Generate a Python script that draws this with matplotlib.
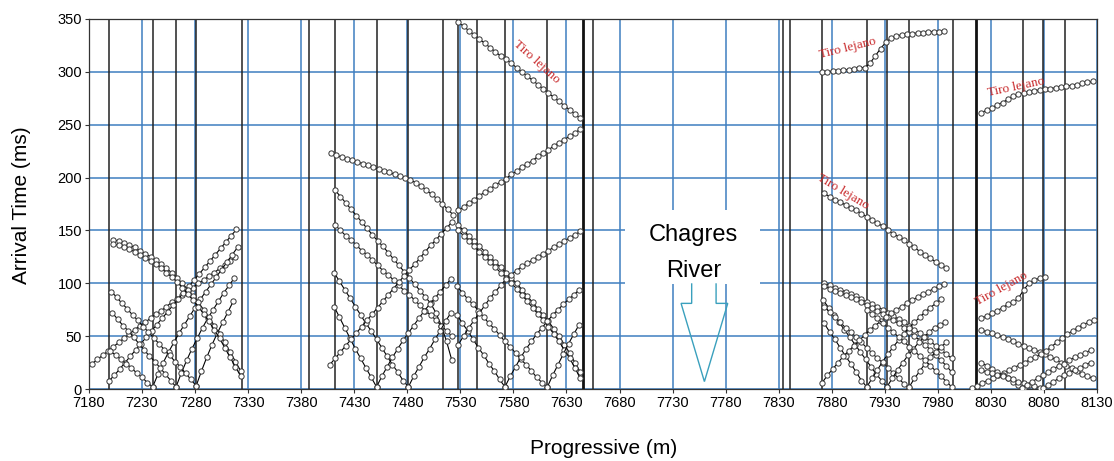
import numpy as np
import matplotlib
matplotlib.use("Agg")
import matplotlib.pyplot as plt
from matplotlib.patches import Rectangle, Polygon

# ---------------- data ----------------
STEP = 5  # geophone spacing (m)

# axis ticks
x_ticks = list(range(7180, 8131, 50))
y_ticks = list(range(0, 351, 50))

# shot / spread boundary positions (black vertical lines)
shot_lines = [7199, 7240, 7262, 7281, 7324, 7387, 7412, 7451, 7481, 7514, 7528,
              7546, 7572, 7612, 7655, 7834, 7841, 7871, 7913, 7932, 7953, 7994,
              8060, 8079, 8100]
thick_lines = [7646, 8016]

# each travel-time branch: (first geophone position, arrival times in ms)
group1 = [
    (7183, [24, 28, 32, 36, 40, 44, 48, 52, 56, 60, 63, 67, 71, 74, 78, 82, 85, 89, 93, 96, 100, 103, 107, 110, 114, 117, 121, 125]),
    (7199, [8, 13, 19, 25, 31, 37, 43, 49, 55, 61, 67, 73, 79, 85, 91, 97, 103, 109, 115, 121, 127, 133, 139, 145, 151]),
    (7240, [2, 14, 25, 35, 44, 53, 61, 69, 77, 85, 92, 99, 106, 113, 120, 127, 134]),
    (7262, [2, 15, 27, 38, 48, 58, 67, 75, 83, 91, 98, 105]),
    (7281, [3, 17, 30, 42, 53, 63, 73, 83]),
    (7203, [141, 140, 138, 136, 134, 131, 128, 125, 122, 118, 114, 110, 105, 100, 94, 88, 82, 75, 68, 60, 52, 44, 35, 26, 17]),
    (7203, [137, 136, 134, 132, 130, 127, 124, 121, 118, 114, 110, 106, 101, 96, 90, 84, 78, 71, 64, 56, 48, 39, 30, 21, 12]),
    (7201, [92, 87, 81, 76, 70, 65, 59, 54, 48, 43, 37, 32, 26, 21, 15, 9, 3]),
    (7202, [72, 66, 60, 55, 49, 43, 37, 31, 26, 20, 14, 8, 2]),
    (7200, [36, 32, 28, 24, 20, 15, 11, 6, 2]),
]
group2 = [
    (7408, [223, 221, 219.5, 218, 216.5, 215, 213, 211.5, 210, 208, 206.5, 205, 203, 201.5, 200, 198, 195, 192, 188, 184, 180, 175, 170, 165]),
    (7412, [188, 182, 176, 170, 164, 158, 152, 146, 140, 135, 129, 123, 117, 111, 105, 99, 93, 87, 81, 72, 60, 45, 27]),
    (7412, [155, 150, 145, 141, 136, 131, 127, 122, 117, 112, 108, 103, 98, 93, 89, 84, 79, 74, 70, 65, 60, 55, 50]),
    (7411, [110, 102, 94, 86, 78, 70, 62, 55, 47, 39, 31, 23, 16, 8, 2]),
    (7411, [78, 68, 58, 48, 38, 29, 20, 11, 2]),
    (7407, [23, 29, 35, 41, 47, 53, 59, 65, 71, 77, 83, 89, 95, 101, 107, 113, 118, 124, 130, 136, 141, 147, 152, 158]),
    (7451, [2, 12, 21, 30, 38, 46, 53, 60, 67, 74, 80, 86, 92, 98, 104]),
    (7481, [2, 12, 21, 30, 38, 47, 55, 64, 72]),
    (7528, [347, 343, 339, 335, 331, 327, 323, 319, 315, 312, 308, 304, 300, 296, 292, 288, 284, 280, 276, 272, 268, 264, 260, 256]),
    (7528, [169, 172, 176, 179, 183, 186, 189, 193, 196, 199, 203, 206, 210, 213, 216, 220, 223, 226, 230, 233, 236, 239, 242, 246]),
    (7528, [155, 150, 145, 140, 135, 130, 125, 120, 115, 110, 105, 100, 94, 88, 82, 76, 70, 64, 57, 50, 42, 34, 25, 16]),
    (7528, [150, 145, 140, 135, 130, 125, 120, 115, 110, 105, 100, 95, 89, 83, 77, 71, 65, 59, 52, 45, 37, 29, 20, 10]),
    (7527, [97, 91, 85, 80, 74, 68, 62, 57, 51, 45, 40, 34, 28, 23, 17, 11, 6, 2]),
    (7527, [70, 62, 55, 47, 39, 32, 24, 17, 9, 2]),
    (7528, [42, 50, 58, 65, 72, 79, 86, 92, 98, 104, 108, 112, 116, 119, 122, 125, 128, 131, 134, 137, 140, 143, 146, 149]),
    (7572, [2, 12, 21, 30, 38, 45, 52, 58, 64, 70, 75, 80, 85, 89, 94]),
    (7612, [2, 13, 23, 33, 43, 52, 61]),
]
group3 = [
    (7871, [300, 300, 301, 301, 302, 302, 303, 304, 304, 308, 315, 322, 328, 332, 334, 335, 336, 336, 337, 337, 338, 338, 338, 339]),
    (7873, [185, 182, 179, 177, 174, 171, 169, 166, 163, 160, 157, 154, 150, 147, 144, 141, 137, 134, 130, 127, 124, 120, 117, 114]),
    (7873, [100, 98, 96, 94, 92, 90, 88, 85, 82, 80, 78, 75, 72, 69, 66, 63, 60, 56, 53, 49, 45, 41, 37, 33, 29]),
    (7873, [97, 95, 93, 91, 89, 87, 85, 82, 79, 77, 74, 71, 68, 65, 62, 58, 54, 50, 46, 42, 37, 32, 27, 22, 16]),
    (7872, [84, 77, 70, 63, 56, 49, 42, 35, 28, 21, 14, 8, 2]),
    (7873, [78, 73, 68, 63, 58, 54, 49, 44, 39, 34, 29, 25, 20, 15, 10, 5, 1]),
    (7873, [62, 54, 47, 39, 31, 24, 16, 8, 2]),
    (7871, [6, 13, 19, 25, 31, 36, 41, 46, 51, 56, 60, 64, 68, 72, 75, 78, 81, 84, 87, 90, 92, 95, 97, 99]),
    (7913, [2, 10, 18, 26, 33, 40, 46, 52, 58, 63, 68, 73, 77, 81, 85]),
    (7932, [2, 10, 18, 25, 32, 38, 44, 49, 54, 58, 61, 63]),
    (7953, [2, 10, 17, 24, 30, 35, 40, 44]),
    (7913, [75, 71, 67, 62, 58, 54, 49, 45, 40, 36, 31, 27, 22, 17, 12, 7, 2]),
]
group4 = [
    (8021, [261, 264, 266, 269, 271, 274, 277, 279, 280, 281, 282, 283, 284, 284, 285, 286, 287, 287, 288, 289, 290, 291]),
    (8021, [67, 69, 72, 74, 77, 80, 82, 86, 94, 100, 103, 105, 106]),
    (8021, [56, 54, 53, 51, 49, 47, 45, 43, 41, 39, 37, 35, 33, 30, 28, 25, 22, 20, 17, 14, 12, 10]),
    (8012, [1, 3, 6, 8, 10, 13, 15, 18, 20, 23, 25, 28, 30, 33, 36, 40, 44, 48, 52, 55, 58, 61, 63, 65]),
    (8021, [25, 22, 19, 16, 13, 10, 7, 4, 1]),
    (8021, [18, 16, 15, 13, 12, 10, 9, 7, 6, 4, 3, 1]),
    (8059, [1, 4, 7, 10, 13, 16, 19, 22, 24, 27, 30, 32, 34, 37]),
    (8079, [1, 4, 7, 10, 13, 15, 18, 20, 23, 25]),
]

# annotations
far_labels = [  # (x, t, rotation)
    (7602, 309, -42), (7895, 322, 14), (7891, 187, -31), (8054, 286, 12), (8040, 95, 29)]
river_box = (7685, 99, 127, 70)      # x, t, width, height
river_arrow = [(7748, 100), (7748, 81), (7738, 81), (7760, 7), (7782, 81),
               (7771, 81), (7771, 100)]

# ---------------- figure ----------------
W, H = 1114, 461
fig = plt.figure(figsize=(W / 100, H / 100), dpi=100)
ax = fig.add_axes([89 / W, 1 - 389 / H, (1097 - 89) / W, (389 - 19) / H])
ax.set_xlim(7180, 8130)
ax.set_ylim(0, 350)

blue = "#3f7fc0"
for xt in x_ticks:
    ax.axvline(xt, color=blue, lw=1.1, zorder=1)
for yt in y_ticks:
    ax.axhline(yt, color=blue, lw=1.1, zorder=1)
for xs in shot_lines:
    ax.axvline(xs, color="#222222", lw=1.1, zorder=2)
for xs in thick_lines:
    ax.axvline(xs, color="#111111", lw=2.0, zorder=2)

for grp in (group1, group2, group3, group4):
    for x0, ts in grp:
        xs = x0 + STEP * np.arange(len(ts))
        ax.plot(xs, ts, color="black", lw=0.8, marker="o", ms=3.8,
                mfc="white", mec="#333333", mew=0.7, zorder=4)

ax.add_patch(Rectangle((river_box[0], river_box[1]), river_box[2], river_box[3],
                       facecolor="white", edgecolor="none", zorder=3))
ax.text(7750, 146, "Chagres", ha="center", va="center", fontsize=17,
        family="Liberation Sans", zorder=5)
ax.text(7750, 112, "River", ha="center", va="center", fontsize=17,
        family="Liberation Sans", zorder=5)
ax.add_patch(Polygon(river_arrow, closed=False, fill=False,
                     edgecolor="#3aa0bd", lw=1.0, zorder=5))

for x, t, r in far_labels:
    ax.text(x, t, "Tiro lejano", color="#c8282a", fontsize=9.5, rotation=r,
            ha="center", va="center", family="Liberation Serif", zorder=6)

ax.set_xticks(x_ticks)
ax.set_yticks(y_ticks)
ax.set_xticklabels([str(v) for v in x_ticks], family="Liberation Sans", fontsize=10.5)
ax.set_yticklabels([str(v) for v in y_ticks], family="Liberation Sans", fontsize=10.5)
ax.tick_params(axis="both", length=3, width=0.8, color="#333333", pad=2)
for s in ax.spines.values():
    s.set_color("#333333")
    s.set_linewidth(0.9)

fig.text(604 / W, 1 - 448 / H, "Progressive (m)", fontsize=15,
         family="Liberation Sans", ha="center", va="center")
fig.text(22 / W, 1 - 205 / H, "Arrival Time (ms)", fontsize=15, rotation=90,
         family="Liberation Sans", ha="center", va="center")

fig.savefig("out.png", dpi=100)
